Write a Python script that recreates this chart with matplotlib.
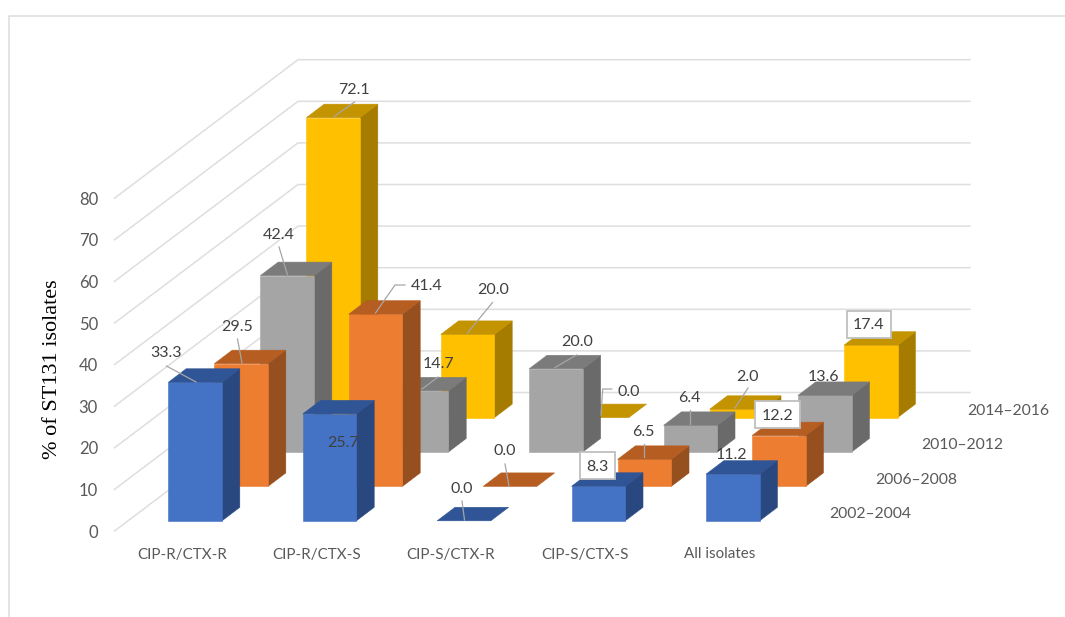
import matplotlib
matplotlib.use('Agg')
import matplotlib.pyplot as plt
from matplotlib.patches import Rectangle

categories = ['CIP-R/CTX-R', 'CIP-R/CTX-S', 'CIP-S/CTX-R', 'CIP-S/CTX-S', 'All isolates']
periods = ['2002–2004', '2006–2008', '2010–2012', '2014–2016']
yticks = [0, 10, 20, 30, 40, 50, 60, 70, 80]

values_2002 = [33.3, 25.7, 0.0, 8.3, 11.2]
values_2006 = [29.5, 41.4, 0.0, 6.5, 12.2]
values_2010 = [42.4, 14.7, 20.0, 6.4, 13.6]
values_2014 = [72.1, 20.0, 0.0, 2.0, 17.4]
series = [values_2002, values_2006, values_2010, values_2014]

# front, top, side
colors = [
    ('#4472C4', '#2F5597', '#2A4880'),
    ('#ED7D31', '#B65D22', '#964F1E'),
    ('#A5A5A5', '#7B7B7B', '#6A6A6A'),
    ('#FFC000', '#C49300', '#A67C00'),
]

# oblique projection, everything in image pixels
X0, Y0 = 168.4, 520.8      # front bottom left of the first blue bar
CAT_STEP = 134.4
SER_DX, SER_DY = 46.0, -34.4
BAR_W = 53.6
DEP_DX, DEP_DY = 17.8, -13.5
PX_PER_UNIT = 4.16
WALL_X0, WALL_Y0 = 114.5, 531.0
WALL_X1, WALL_Y1 = 298.0, 392.5
WALL_END = 970.0

fig = plt.figure(figsize=(10.65, 6.17), dpi=100)
ax = fig.add_axes([0, 0, 1, 1])
ax.set_xlim(0, 1065)
ax.set_ylim(617, 0)
ax.axis('off')

TEXT = '#595959'
FONT = 'Lato'
GRID = '#DEDEDE'

# outer frame
ax.plot([8.5, 8.5, 1065], [617, 15.5, 15.5], color='#DDDDDD', lw=1.1, zorder=1)

# walls
for v in yticks:
    dy = v * PX_PER_UNIT
    ax.plot([WALL_X0, WALL_X1, WALL_END],
            [WALL_Y0 - dy, WALL_Y1 - dy, WALL_Y1 - dy], color=GRID, lw=1.1, zorder=1)
    ax.text(98, WALL_Y0 - dy + 1.5, str(v), ha='right', va='center', fontsize=12,
            color=TEXT, family=FONT)


def draw_bar(cat, ser, value):
    x = X0 + cat * CAT_STEP + ser * SER_DX
    yb = Y0 + ser * SER_DY
    yt = yb - value * PX_PER_UNIT
    front, top, side = colors[ser]
    z = 2 + ser * -10 + 30 + cat * 0.1
    if value > 0:
        ax.fill([x + BAR_W, x + BAR_W + DEP_DX, x + BAR_W + DEP_DX, x + BAR_W],
                [yb, yb + DEP_DY, yt + DEP_DY, yt], color=side, lw=0.4, zorder=z)
        ax.fill([x, x + BAR_W, x + BAR_W, x], [yb, yb, yt, yt], color=front, lw=0.4, zorder=z)
    ax.fill([x, x + BAR_W, x + BAR_W + DEP_DX, x + DEP_DX],
            [yt, yt, yt + DEP_DY, yt + DEP_DY], color=top, lw=0.4, zorder=z)


for s in range(len(series)):
    for c in range(len(categories)):
        draw_bar(c, s, series[s][c])

# axis labels
for c, name in enumerate(categories):
    ax.text(182 + c * CAT_STEP, 554.5, name, ha='center', va='center', fontsize=10.9,
            color=TEXT, family=FONT)
for s, name in enumerate(periods):
    ax.text(829 + s * SER_DX, 514 + s * SER_DY, name, ha='left', va='center', fontsize=11.3,
            color=TEXT, family=FONT)
ax.text(53, 369, '% of ST131 isolates', rotation=90, ha='center', va='center',
        fontsize=16, color='black', family='Liberation Serif')

# label centres and leader lines, same order as the series
label_pos = [
    [(166, 352), (343, 442), (461.7, 487.7), (597.7, 465.7), (731.7, 454)],
    [(237.3, 325.7), (426.3, 285), (505, 450), (643.3, 430.7), (777.3, 414.7)],
    [(279, 234), (438.3, 363.3), (576.7, 341), (689, 396.7), (823.3, 375.7)],
    [(354.3, 88.7), (492.7, 289.3), (628.7, 390.7), (747.7, 375.7), (869, 324.3)],
]
leaders = [
    [[(166.5, 366), (196, 382)], None, [(462, 501), (464.5, 520)], None, None],
    [[(237.5, 339), (242, 363)], [(405, 285), (395, 285), (375.5, 313)],
     [(505, 464), (509, 486)], [(644, 444), (644, 457)], None],
    [[(279, 247), (287.5, 275)], [(438, 377), (422, 389)], [(576.5, 355), (555, 367.5)],
     [(690, 410), (690, 424)], None],
    [[(354.5, 102), (334, 116.5)], [(492.5, 302.5), (467.5, 333)],
     [(611.7, 389), (602.7, 389), (601, 415)], [(748, 388), (735, 408)], None],
]
# white boxed labels: (series, category) -> box width in pixels
boxed = {(0, 3): 34.5, (1, 4): 44.5, (3, 4): 43.5}
BOX_H = 27

for s in range(len(series)):
    for c in range(len(categories)):
        px, py = label_pos[s][c]
        line = leaders[s][c]
        if line:
            ax.plot([p[0] for p in line], [p[1] for p in line], color='#A6A6A6', lw=0.9, zorder=60)
        if (s, c) in boxed:
            w = boxed[(s, c)]
            ax.add_patch(Rectangle((px - w / 2, py - BOX_H / 2), w, BOX_H, fc='white',
                                   ec='#BFBFBF', lw=1.3, zorder=60.5))
        ax.text(px, py + 1, '%.1f' % series[s][c], ha='center', va='center', fontsize=11.5,
                color='#404040', family=FONT, zorder=61)

fig.savefig('out.png', dpi=100, facecolor='white')
